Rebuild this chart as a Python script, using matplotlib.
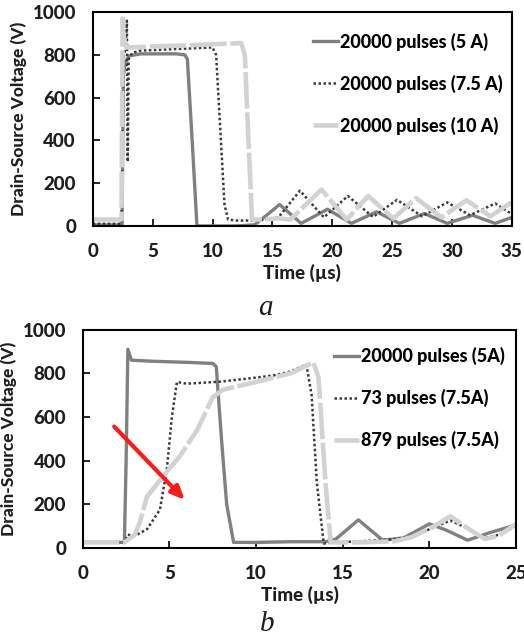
import numpy as np
import matplotlib.pyplot as plt

# --- panel a: 20000 pulses at three currents ---
t_a_5 = [0, 2.45, 2.55, 2.7, 3.0, 4.0, 5.0, 6.0, 7.0, 7.7, 7.9, 8.3, 8.7, 9.5, 12.0, 13.5, 14.3,
         15.6, 17.4, 19.6, 21.6, 23.7, 25.6, 27.7, 29.6, 31.7, 33.6, 35.0]
v_a_5 = [5, 5, 700, 760, 795, 805, 805, 805, 805, 800, 780, 400, 0, 0, 0, 5, 40,
         100, 12, 78, 12, 66, 12, 58, 12, 50, 12, 40]

t_a_75 = [0, 2.4, 2.5, 2.6, 2.75, 2.85, 2.92, 3.0, 3.3, 4.0, 6.0, 8.0, 10.0, 10.3, 10.6, 11.0, 11.3,
          12.0, 13.5, 14.5, 15.5, 17.3, 19.3, 21.3, 23.4, 25.4, 27.5, 29.6, 31.5, 33.6, 35.0]
v_a_75 = [10, 10, 400, 800, 830, 960, 300, 780, 810, 820, 825, 830, 835, 800, 500, 100, 30,
          25, 25, 30, 40, 165, 40, 140, 42, 122, 45, 110, 50, 105, 55]

t_a_10 = [0, 2.4, 2.5, 2.6, 2.8, 3.2, 5.0, 8.0, 10.0, 12.4, 12.7, 13.0, 13.3, 14.0, 15.5, 16.5,
          19.1, 21.2, 23.0, 25.1, 27.0, 29.1, 31.2, 33.2, 35.0]
v_a_10 = [30, 30, 970, 880, 835, 835, 840, 845, 850, 855, 800, 400, 30, 30, 35, 30,
          170, 30, 140, 35, 130, 40, 120, 45, 112]

# --- panel b: aging comparison ---
t_b_5 = [0, 2.4, 2.5, 2.6, 2.8, 4.0, 6.0, 7.5, 7.7, 8.0, 8.3, 8.7, 10.0, 12.0, 14.0, 14.6,
         15.9, 17.3, 18.5, 20.0, 21.0, 22.2, 23.5, 25.0]
v_b_5 = [25, 25, 400, 910, 860, 855, 850, 845, 830, 500, 200, 25, 25, 28, 28, 40,
         128, 35, 45, 110, 80, 35, 70, 105]

t_b_73 = [0, 2.4, 2.6, 3.0, 3.7, 4.45, 4.85, 5.14, 5.43, 6.0, 8.0, 10.0, 11.0, 12.0, 12.9,
          13.2, 13.5, 13.9, 14.5, 16.0, 18.0, 19.0, 20.0, 21.2, 22.3, 23.2, 24.0, 25.0]
v_b_73 = [25, 25, 60, 55, 85, 175, 360, 600, 760, 752, 762, 780, 790, 808, 840,
          700, 300, 20, 25, 30, 40, 55, 85, 125, 85, 45, 60, 100]

t_b_879 = [0, 2.4, 3.0, 3.3, 3.7, 4.6, 5.6, 6.6, 7.5, 8.1, 10.0, 12.0, 13.3, 13.6, 14.0, 14.3,
           16.0, 18.0, 19.0, 20.3, 21.2, 22.3, 23.2, 24.0, 25.0]
v_b_879 = [25, 25, 60, 120, 234, 325, 420, 540, 690, 725, 760, 800, 850, 780, 300, 25,
           25, 30, 50, 100, 145, 85, 40, 55, 110]

labels_a = ['20000 pulses (5 A)', '20000 pulses (7.5 A)', '20000 pulses (10 A)']
labels_b = ['20000 pulses (5A)', '73 pulses (7.5A)', '879 pulses (7.5A)']

c_mid = '#808080'
c_dark = '#3a3a3a'
c_light = '#d2d2d2'
txt = '#1e1e1e'

plt.rcParams['font.family'] = ['Lato', 'DejaVu Sans']

fig = plt.figure(figsize=(5.24, 6.4), dpi=100)
ax1 = fig.add_axes([0.177, 0.647, 0.8, 0.334])
ax2 = fig.add_axes([0.158, 0.144, 0.827, 0.341])


def style(ax, xmax, xticks):
    ax.set_xlim(0, xmax)
    ax.set_ylim(0, 1000)
    ax.set_xticks(xticks)
    ax.set_yticks([0, 200, 400, 600, 800, 1000])
    ax.tick_params(direction='in', length=5, width=1.2, labelsize=13.5,
                   colors='black', labelcolor=txt)
    ax.tick_params(axis='x', pad=12)
    ax.tick_params(axis='y', pad=12)
    for lab in ax.get_xticklabels() + ax.get_yticklabels():
        lab.set_fontweight('black')
    for s in ax.spines.values():
        s.set_linewidth(1.5)
        s.set_color('black')
    ax.set_xlabel('Time (µs)', fontsize=13.5, fontweight='black', color=txt, labelpad=3)
    ax.set_ylabel('Drain-Source Voltage (V)', fontsize=12.5, fontweight='black', color=txt,
                  labelpad=4)


leg_kw = dict(loc='upper left', frameon=False, handlelength=1.4, handletextpad=0.1,
              labelspacing=1.32, borderpad=0, borderaxespad=0,
              prop={'weight': 'black', 'size': 13})

# panel a
ax1.plot(t_a_5, v_a_5, color=c_mid, lw=2.4, label=labels_a[0])
ax1.plot(t_a_75, v_a_75, color=c_dark, lw=1.8, ls=(0, (1, 1)), label=labels_a[1])
ax1.plot(t_a_10, v_a_10, color=c_light, lw=3.3, ls=(0, (8, 0.8)), label=labels_a[2])
style(ax1, 35, [0, 5, 10, 15, 20, 25, 30, 35])
ax1.legend(bbox_to_anchor=(0.525, 0.905), **leg_kw)

# panel b
ax2.plot(t_b_5, v_b_5, color=c_mid, lw=2.4, label=labels_b[0])
ax2.plot(t_b_73, v_b_73, color=c_dark, lw=1.8, ls=(0, (1, 1)), label=labels_b[1])
ax2.plot(t_b_879, v_b_879, color=c_light, lw=3.3, ls=(0, (8, 0.8)), label=labels_b[2])
style(ax2, 25, [0, 5, 10, 15, 20, 25])
ax2.legend(bbox_to_anchor=(0.58, 0.92), **leg_kw)
ax2.annotate('', xy=(6.0, 210), xytext=(1.7, 565),
             arrowprops=dict(arrowstyle='-|>,head_length=0.8,head_width=0.35',
                             color='#ff1a1a', lw=3))

fig.text(0.506, 0.518, 'a', fontsize=21, style='italic', fontweight='normal',
         family='Liberation Serif', ha='center', va='center', color=txt)
fig.text(0.51, 0.025, 'b', fontsize=21, style='italic', fontweight='normal',
         family='Liberation Serif', ha='center', va='center', color=txt)

fig.savefig('out.png', dpi=100)
